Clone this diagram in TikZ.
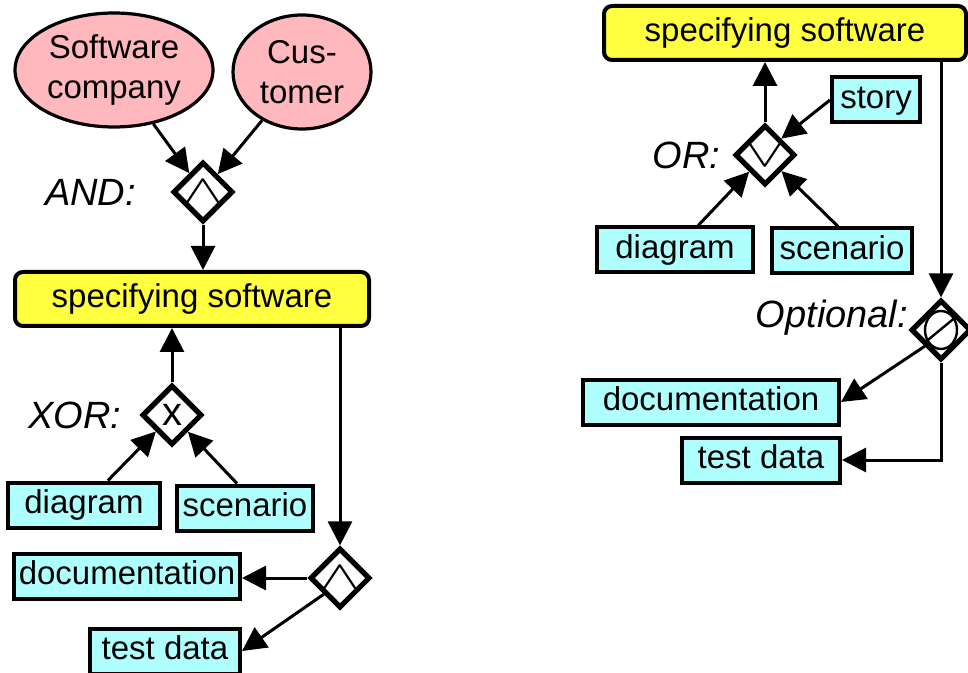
\documentclass[tikz,border=0pt]{standalone}
\usepackage{fontspec}
\usepackage{graphicx}
\setmainfont{Liberation Sans}
\usetikzlibrary{arrows.meta,positioning,shapes.geometric}
\definecolor{actorpink}{HTML}{FFB8BE}
\definecolor{activity}{HTML}{FFFF40}
\definecolor{artifact}{HTML}{B0FFFF}
\newcommand{\gatewedge}{\scalebox{1.5}[1]{$\wedge$}}
\newcommand{\gatevee}{\scalebox{1.5}[1]{$\vee$}}

\begin{document}
\begin{tikzpicture}[x=0.5pt, y=-0.5pt,
  every node/.style={font=\fontsize{16.5}{20}\selectfont},
  actor/.style={ellipse, draw, line width=1.6pt, fill=actorpink, align=center,
                inner sep=0pt, minimum height=57pt},
  activity/.style={draw, line width=2pt, fill=activity, rounded corners=4pt,
                minimum height=27pt, inner sep=2pt, text height=12pt, text depth=3.5pt},
  artifact/.style={draw, line width=2pt, fill=artifact, minimum height=22.5pt,
                inner xsep=2pt, inner ysep=0pt, text height=12pt, text depth=3.5pt},
  gate/.style={diamond, draw, line width=2.6pt, fill=white, minimum size=30pt,
                inner sep=0pt, font=\fontsize{20}{20}\selectfont},
  symgate/.style={gate, label={[font=\fontsize{22}{22}\selectfont, inner sep=0pt]center:#1}},
  optgate/.style={gate, path picture={
      \draw[line width=1.2pt] (path picture bounding box.center) ellipse (8pt and 9.5pt);
      \draw[line width=1.2pt] ([shift={(-9pt,-7pt)}]path picture bounding box.center) -- ++(17pt,14pt);}},
  gatelabel/.style={font=\fontsize{19}{22}\selectfont\itshape, inner sep=0pt},
  arr/.style={-{Triangle[length=12pt, width=12pt]}, line width=1.5pt}
]
  \useasboundingbox (0,0) rectangle (968,673);

  % left: AND / XOR / AND
  \node[actor, minimum width=99pt] (company) at (114,70) {Software\\company};
  \node[actor, minimum width=69pt] (customer) at (302,72) {Cus-\\tomer};
  \node[symgate=\gatewedge] (and) at (203,192) {};
  \node[gatelabel, left=17pt of and] (andlbl) {AND:};
  \node[activity, minimum width=177pt] (spec) at (192,299) {specifying software};
  \node[gate] (xor) at (172,415) {x};
  \node[gatelabel, left=9pt of xor] (xorlbl) {XOR:};
  \node[artifact, minimum width=76pt] (diag) at (84,505) {diagram};
  \node[artifact, minimum width=68pt] (scen) at (245,508) {scenario};
  \node[symgate=\gatewedge] (and2) at (340,578) {};
  \node[artifact, minimum width=113pt] (doc) at (127,576) {documentation};
  \node[artifact, minimum width=75pt] (test) at (165,651) {test data};

  \draw[arr] (company) -- (and);
  \draw[arr] (customer) -- (and);
  \draw[arr] (and) -- (and |- spec.north);
  \draw[arr] (xor) -- (xor |- spec.south);
  \draw[arr] (diag) -- (xor);
  \draw[arr] ([xshift=-4pt]scen.north) -- (xor);
  \draw[arr] (spec.south -| and2) -- (and2);
  \draw[arr] (and2.west) -- (doc.east |- and2.west);
  \draw[arr] (and2.south west) -- (test.east);

  % right: OR / Optional
  \node[activity, minimum width=181pt] (spec2) at (785,33) {specifying software};
  \node[symgate=\gatevee] (or) at (765,155) {};
  \node[gatelabel, left=6pt of or] (orlbl) {OR:};
  \node[artifact, minimum width=44pt] (story) at (876,100) {story};
  \node[artifact, minimum width=78pt] (diag2) at (675,250) {diagram};
  \node[artifact, minimum width=70pt] (scen2) at (842,251) {scenario};
  \node[optgate] (opt) at (941,330) {};
  \node[gatelabel, left=0pt of opt, yshift=6pt] (optlbl) {Optional:};
  \node[artifact, minimum width=128pt] (doc2) at (711,402) {documentation};
  \node[artifact, minimum width=79pt] (test2) at (761,460) {test data};

  \draw[arr] (or) -- (or |- spec2.south);
  \draw[arr] (story.west) -- (or.north east);
  \draw[arr] (diag2) -- (or);
  \draw[arr] ([xshift=-2pt]scen2.north) -- (or);
  \draw[arr] (spec2.south -| opt) -- (opt);
  \draw[arr] (opt.south west) -- (doc2.east);
  \draw[arr] (opt.south) |- (test2.east);
\end{tikzpicture}
\end{document}
